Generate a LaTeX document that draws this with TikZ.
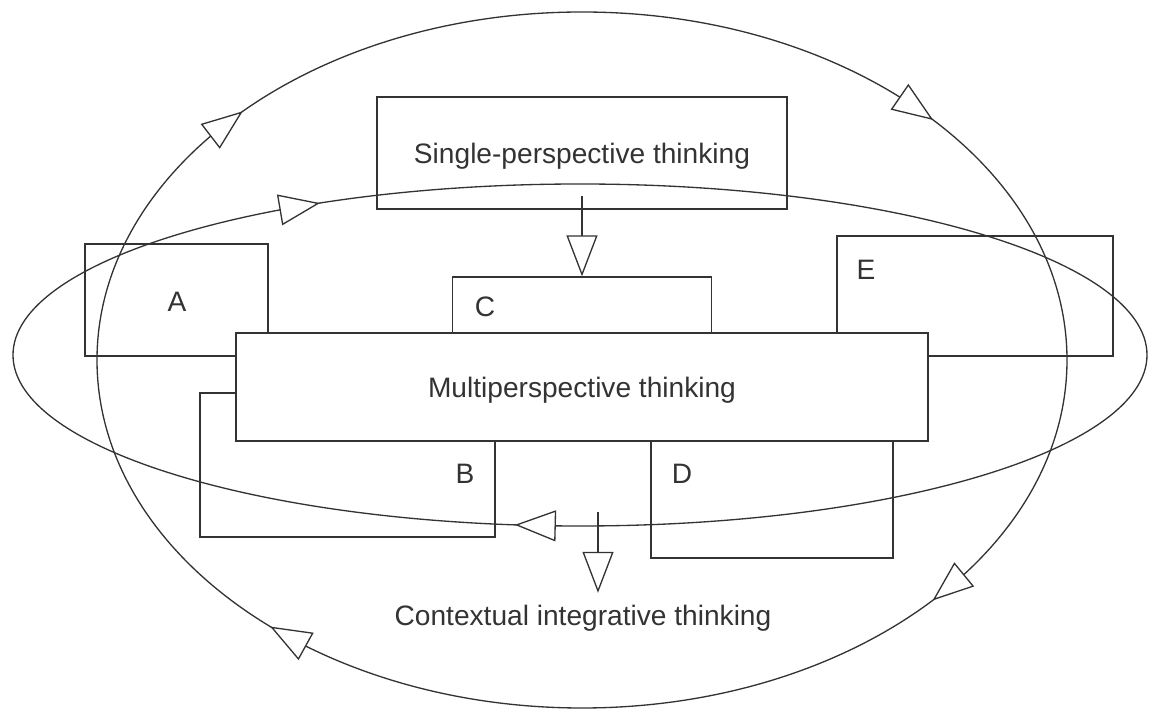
\documentclass[tikz,border=0pt]{standalone}
\usepackage{fontspec}
\setmainfont{Liberation Sans}
\usetikzlibrary{arrows.meta}

\begin{document}
\begin{tikzpicture}[
    line width = 0.75pt,
    color = black!80,
    >={Triangle[length=0.82cm,width=0.62cm,fill=white]},
    box/.style = {
      draw,
      rectangle,
      inner sep = 0pt
    },
    word/.style = {
      font = \fontsize{16}{19}\selectfont,
      text depth = 0pt
    }
  ]
  \useasboundingbox (0,0) rectangle (23,14.26);

  \coordinate (V) at (11.64,7.06);
  \coordinate (H) at (11.60,7.16);

  \node[box, minimum width=3.66cm, minimum height=2.24cm] (a) at (3.53,8.26) {};
  \node[box, minimum width=5.90cm, minimum height=2.88cm] (b) at (6.95,4.96) {};
  \node[box, minimum width=5.18cm, minimum height=1.12cm] (c) at (11.64,8.16) {};
  \node[box, minimum width=4.84cm, minimum height=2.34cm] (d) at (15.44,4.27) {};
  \node[box, minimum width=5.52cm, minimum height=2.40cm] (e) at (19.50,8.34) {};

  \node[word] (la) at (3.54,8.22) {A};
  \node[word] (lb) at (9.30,4.78) {B};
  \node[word] (lc) at (9.70,8.12) {C};
  \node[word] (ld) at (13.64,4.78) {D};
  \node[word] (le) at (17.32,8.86) {E};

  \node[box, word, fill=white, minimum width=13.84cm, minimum height=2.16cm] (multi) at (11.64,6.52) {Multiperspective thinking};
  \node[box, word, minimum width=8.20cm, minimum height=2.24cm] (single) at (11.64,11.20) {Single-perspective thinking};
  \node[word, inner sep=0pt, outer sep=0.24cm] (context) at (11.66,1.96) {Contextual integrative thinking};

  \draw (V) ellipse [x radius=9.70, y radius=6.96];
  \draw (H) ellipse [x radius=11.34, y radius=3.42];

  \draw[->] ([shift={(139.6:9.70cm and 6.96cm)}]V) -- ([shift={(134.4:9.70cm and 6.96cm)}]V);
  \draw[->] ([shift={(48.7:9.70cm and 6.96cm)}]V) -- ([shift={(43.6:9.70cm and 6.96cm)}]V);
  \draw[->] ([shift={(-38.5:9.70cm and 6.96cm)}]V) -- ([shift={(-43.7:9.70cm and 6.96cm)}]V);
  \draw[->] ([shift={(-125.2:9.70cm and 6.96cm)}]V) -- ([shift={(-130:9.70cm and 6.96cm)}]V);

  \draw[->] ([shift={(121.6:11.34cm and 3.42cm)}]H) -- ([shift={(117.3:11.34cm and 3.42cm)}]H);
  \draw[->] ([shift={(-92.6:11.34cm and 3.42cm)}]H) -- ([shift={(-96.6:11.34cm and 3.42cm)}]H);

  \draw[->] ([yshift=0.28cm]single.south) -- (c.north);

  \coordinate (mid) at (11.96,4.02);
  \draw[->] (mid) -- (mid |- context.north);
\end{tikzpicture}
\end{document}
